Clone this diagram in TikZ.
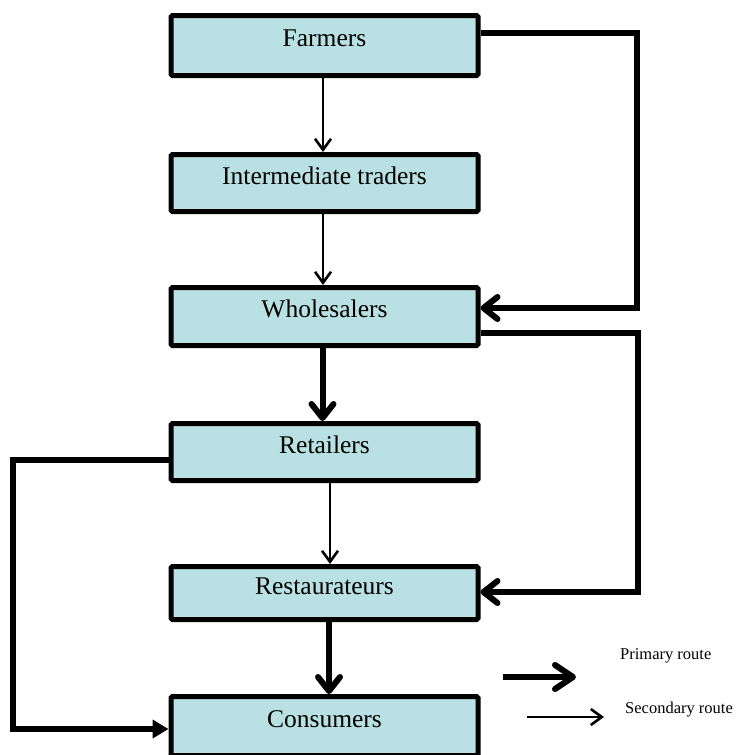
\documentclass[tikz,border=0pt]{standalone}
\usepackage{fontspec}
\setmainfont{Liberation Serif}
\usetikzlibrary{arrows.meta}
\definecolor{boxfill}{HTML}{B9E0E3}
\begin{document}
\begin{tikzpicture}[x=1pt,y=-1pt,
  box/.style={draw, line width=5pt, fill=boxfill, rounded corners=1.5pt,
    minimum width=307pt, inner sep=0pt, text height=0.7em, text depth=0.42em,
    font=\fontsize{25.5}{30}\selectfont},
  primary/.style={line width=6pt, -{Straight Barb[length=14pt,width=22pt,round]}},
  secondary/.style={line width=2.6pt, -{Straight Barb[length=11pt,width=16pt]}},
  legend/.style={anchor=base west, inner sep=0pt, font=\fontsize{16.5}{20}\selectfont}]
\useasboundingbox (0,0) rectangle (742,755);
% the chain of boxes
\node[box, minimum height=60pt] (farm) at (324.5,45.5) {Farmers};
\node[box, minimum height=57pt] (inter) at (324.5,183) {Intermediate traders};
\node[box, minimum height=58pt] (whole) at (324.5,316.5) {Wholesalers};
\node[box, minimum height=57pt] (retail) at (324.5,452) {Retailers};
\node[box, minimum height=53pt] (rest) at (324.5,593) {Restaurateurs};
\node[box, minimum height=59pt] (cons) at (324.5,726) {Consumers};
% downward flow
\path[draw,secondary] ([xshift=-1.5pt]farm.south) -- ([xshift=-1.5pt]inter.north);
\path[draw,secondary] ([xshift=-1.5pt]inter.south) -- ([xshift=-1.5pt]whole.north);
\path[draw,primary] ([xshift=-2pt]whole.south) -- ([xshift=-2pt]retail.north);
\path[draw,secondary] ([xshift=5.5pt]retail.south) -- ([xshift=5.5pt]rest.north);
\path[draw,primary] ([xshift=4.5pt]rest.south) -- ([xshift=4.5pt]cons.north);
% side routes
\path[draw,primary] ([yshift=12.5pt]farm.east) -- ++(156,0) |- ([yshift=8.5pt]whole.east);
\path[draw,primary] ([yshift=-16.5pt]whole.east) -- ++(157,0) |- ([yshift=1pt]rest.east);
\path[draw,line width=6pt,-{Triangle[length=16pt,width=18pt]}]
  ([yshift=-8pt]retail.west) -- ++(-156,0) |- ([yshift=-3pt]cons.west);
% legend
\coordinate (p1) at (503,677);
\coordinate (p2) at (576,677);
\coordinate (s1) at (527,717);
\coordinate (s2) at (604,717);
\path[draw,line width=6pt,-{Straight Barb[length=18pt,width=24pt,round]}] (p1) -- (p2);
\path[draw,secondary] (s1) -- (s2);
\node[legend] (prim) at (620,659) {Primary route};
\node[legend] (sec) at (625,713) {Secondary route};
\end{tikzpicture}
\end{document}
